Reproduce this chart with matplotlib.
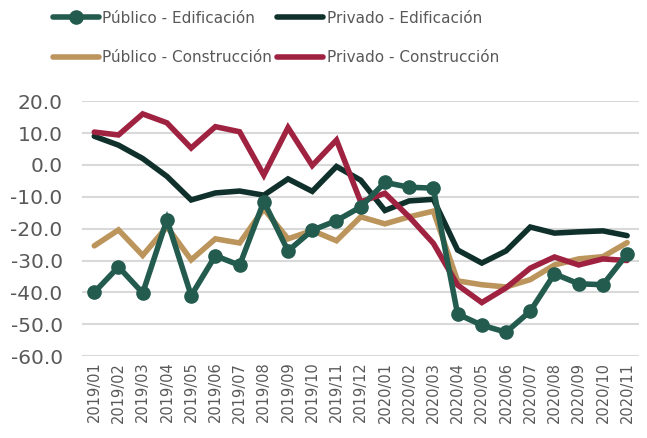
import matplotlib.pyplot as plt
from matplotlib.lines import Line2D

months = ['2019/01', '2019/02', '2019/03', '2019/04', '2019/05', '2019/06',
          '2019/07', '2019/08', '2019/09', '2019/10', '2019/11', '2019/12',
          '2020/01', '2020/02', '2020/03', '2020/04', '2020/05', '2020/06',
          '2020/07', '2020/08', '2020/09', '2020/10', '2020/11']

pub_edif = [-40.0, -32.0, -40.2, -17.2, -41.0, -28.5, -31.5, -11.5, -27.0, -20.5, -17.5, -13.2,
            -5.5, -7.0, -7.3, -46.8, -50.3, -52.5, -45.9, -34.2, -37.3, -37.6, -28.0]
priv_edif = [9.0, 6.2, 2.0, -3.6, -11.0, -8.8, -8.2, -9.5, -4.4, -8.3, -0.5, -4.8,
             -14.3, -11.3, -10.8, -26.7, -30.8, -27.0, -19.5, -21.4, -21.0, -20.7, -22.2]
pub_const = [-25.4, -20.4, -28.4, -19.4, -29.8, -23.2, -24.5, -13.8, -23.2, -20.6, -23.8, -16.3,
             -18.5, -16.3, -14.5, -36.4, -37.6, -38.3, -36.0, -31.4, -29.5, -28.8, -24.4]
priv_const = [10.3, 9.4, 16.0, 13.2, 5.3, 12.0, 10.4, -3.2, 11.7, -0.2, 7.8, -11.6,
              -8.9, -16.3, -24.6, -37.7, -43.2, -38.6, -32.4, -28.9, -31.4, -29.5, -30.0]

C_PUB_EDIF = '#235B4E'
C_PRIV_EDIF = '#10312B'
C_PUB_CONST = '#BC955C'
C_PRIV_CONST = '#9F2241'
GRAY = '#595959'

fig = plt.figure(figsize=(6.47, 4.38), dpi=100)
ax = fig.add_axes([0.127, 0.187, 0.861, 0.582])

x = range(len(months))
lw = 4
ax.plot(x, priv_edif, color=C_PRIV_EDIF, lw=lw, zorder=3, solid_capstyle='round', solid_joinstyle='miter')
ax.plot(x, pub_const, color=C_PUB_CONST, lw=lw, zorder=4, solid_capstyle='round', solid_joinstyle='miter')
ax.plot(x, priv_const, color=C_PRIV_CONST, lw=lw, zorder=5, solid_capstyle='round', solid_joinstyle='miter')
ax.plot(x, pub_edif, color=C_PUB_EDIF, lw=lw, marker='o', ms=9.5, zorder=6, solid_joinstyle='miter')

ax.set_ylim(-60, 20)
ax.set_xlim(-0.5, len(months) - 0.5)
ax.set_yticks(range(-60, 21, 10))
ax.set_yticklabels(['%.1f' % v for v in range(-60, 21, 10)])
ax.set_xticks(list(x))
ax.set_xticklabels(months, rotation=90)
ax.tick_params(axis='y', labelsize=14.5, colors=GRAY, length=0, pad=14)
ax.tick_params(axis='x', labelsize=10.5, colors=GRAY, length=0, pad=4)
ax.grid(axis='y', color='#d9d9d9', lw=1.5)
ax.set_axisbelow(True)
for s in ax.spines.values():
    s.set_visible(False)

# legend: ncol=2 fills by column, so order handles column-wise
handles = [
    Line2D([], [], color=C_PUB_EDIF, lw=lw, marker='o', ms=9.5, solid_capstyle='round'),
    Line2D([], [], color=C_PUB_CONST, lw=lw, solid_capstyle='round'),
    Line2D([], [], color=C_PRIV_EDIF, lw=lw, solid_capstyle='round'),
    Line2D([], [], color=C_PRIV_CONST, lw=lw, solid_capstyle='round'),
]
labels = ['Público - Edificación', 'Público - Construcción',
          'Privado - Edificación', 'Privado - Construcción']
fig.legend(handles, labels, ncol=2, loc='upper left', bbox_to_anchor=(0.065, 1.0),
           frameon=False, fontsize=11, labelcolor=GRAY, handlelength=3.0, numpoints=1,
           handletextpad=0.25, columnspacing=0.3, labelspacing=1.6, borderpad=0.2)

fig.savefig('out.png', dpi=100)
